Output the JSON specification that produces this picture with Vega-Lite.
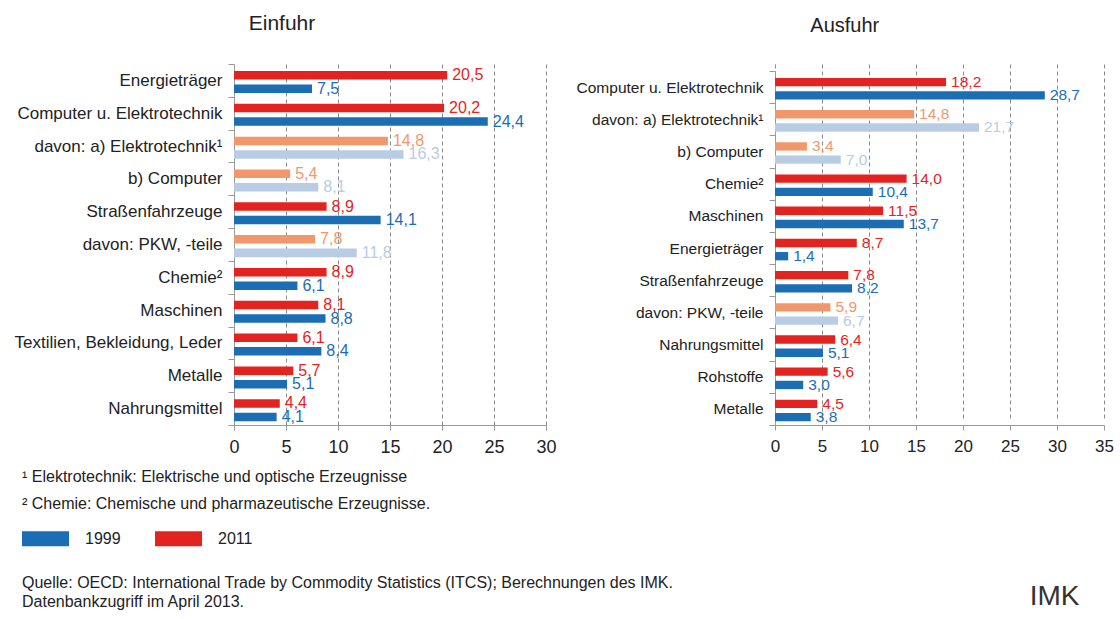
{
  "$schema": "https://vega.github.io/schema/vega-lite/v6.json",
  "background": "white",
  "padding": {"left": 8, "top": 13, "right": 0, "bottom": 0},
  "datasets": {
    "einfuhr": [
      {"cat": "Energieträger", "year": "2011", "series": "2011", "value": 20.5},
      {"cat": "Energieträger", "year": "1999", "series": "1999", "value": 7.5},
      {"cat": "Computer u. Elektrotechnik", "year": "2011", "series": "2011", "value": 20.2},
      {"cat": "Computer u. Elektrotechnik", "year": "1999", "series": "1999", "value": 24.4},
      {"cat": "davon: a) Elektrotechnik¹", "year": "2011", "series": "2011 davon", "value": 14.8},
      {"cat": "davon: a) Elektrotechnik¹", "year": "1999", "series": "1999 davon", "value": 16.3},
      {"cat": "b) Computer", "year": "2011", "series": "2011 davon", "value": 5.4},
      {"cat": "b) Computer", "year": "1999", "series": "1999 davon", "value": 8.1},
      {"cat": "Straßenfahrzeuge", "year": "2011", "series": "2011", "value": 8.9},
      {"cat": "Straßenfahrzeuge", "year": "1999", "series": "1999", "value": 14.1},
      {"cat": "davon: PKW, -teile", "year": "2011", "series": "2011 davon", "value": 7.8},
      {"cat": "davon: PKW, -teile", "year": "1999", "series": "1999 davon", "value": 11.8},
      {"cat": "Chemie²", "year": "2011", "series": "2011", "value": 8.9},
      {"cat": "Chemie²", "year": "1999", "series": "1999", "value": 6.1},
      {"cat": "Maschinen", "year": "2011", "series": "2011", "value": 8.1},
      {"cat": "Maschinen", "year": "1999", "series": "1999", "value": 8.8},
      {"cat": "Textilien, Bekleidung, Leder", "year": "2011", "series": "2011", "value": 6.1},
      {"cat": "Textilien, Bekleidung, Leder", "year": "1999", "series": "1999", "value": 8.4},
      {"cat": "Metalle", "year": "2011", "series": "2011", "value": 5.7},
      {"cat": "Metalle", "year": "1999", "series": "1999", "value": 5.1},
      {"cat": "Nahrungsmittel", "year": "2011", "series": "2011", "value": 4.4},
      {"cat": "Nahrungsmittel", "year": "1999", "series": "1999", "value": 4.1}
    ],
    "ausfuhr": [
      {"cat": "Computer u. Elektrotechnik", "year": "2011", "series": "2011", "value": 18.2},
      {"cat": "Computer u. Elektrotechnik", "year": "1999", "series": "1999", "value": 28.7},
      {"cat": "davon: a) Elektrotechnik¹", "year": "2011", "series": "2011 davon", "value": 14.8},
      {"cat": "davon: a) Elektrotechnik¹", "year": "1999", "series": "1999 davon", "value": 21.7},
      {"cat": "b) Computer", "year": "2011", "series": "2011 davon", "value": 3.4},
      {"cat": "b) Computer", "year": "1999", "series": "1999 davon", "value": 7.0},
      {"cat": "Chemie²", "year": "2011", "series": "2011", "value": 14.0},
      {"cat": "Chemie²", "year": "1999", "series": "1999", "value": 10.4},
      {"cat": "Maschinen", "year": "2011", "series": "2011", "value": 11.5},
      {"cat": "Maschinen", "year": "1999", "series": "1999", "value": 13.7},
      {"cat": "Energieträger", "year": "2011", "series": "2011", "value": 8.7},
      {"cat": "Energieträger", "year": "1999", "series": "1999", "value": 1.4},
      {"cat": "Straßenfahrzeuge", "year": "2011", "series": "2011", "value": 7.8},
      {"cat": "Straßenfahrzeuge", "year": "1999", "series": "1999", "value": 8.2},
      {"cat": "davon: PKW, -teile", "year": "2011", "series": "2011 davon", "value": 5.9},
      {"cat": "davon: PKW, -teile", "year": "1999", "series": "1999 davon", "value": 6.7},
      {"cat": "Nahrungsmittel", "year": "2011", "series": "2011", "value": 6.4},
      {"cat": "Nahrungsmittel", "year": "1999", "series": "1999", "value": 5.1},
      {"cat": "Rohstoffe", "year": "2011", "series": "2011", "value": 5.6},
      {"cat": "Rohstoffe", "year": "1999", "series": "1999", "value": 3.0},
      {"cat": "Metalle", "year": "2011", "series": "2011", "value": 4.5},
      {"cat": "Metalle", "year": "1999", "series": "1999", "value": 3.8}
    ]
  },
  "title": {
    "text": "IMK",
    "orient": "bottom",
    "anchor": "end",
    "frame": "bounds",
    "offset": -27,
    "dx": -34,
    "fontSize": 28,
    "fontWeight": "normal",
    "color": "#333333"
  },
  "vconcat": [
    {
      "title": {
        "text": ["¹ Elektrotechnik: Elektrische und optische Erzeugnisse", "² Chemie: Chemische und pharmazeutische Erzeugnisse."],
        "subtitle": ["Quelle: OECD: International Trade by Commodity Statistics (ITCS); Berechnungen des IMK.", "Datenbankzugriff im April 2013."],
        "orient": "bottom",
        "anchor": "start",
        "frame": "bounds",
        "offset": 13,
        "dx": 14,
        "fontSize": 16,
        "fontWeight": "normal",
        "lineHeight": 27,
        "color": "#222222",
        "subtitleFontSize": 16,
        "subtitleLineHeight": 19,
        "subtitleColor": "#222222",
        "subtitlePadding": 63
      },
      "spacing": 19,
      "resolve": {"scale": {"yOffset": "independent"}},
      "hconcat": [
        {
          "width": 312,
          "height": 361,
          "title": {"text": "Einfuhr", "frame": "bounds", "anchor": "middle", "offset": 21, "fontSize": 21, "fontWeight": "normal", "color": "#222222"},
          "data": {"name": "einfuhr"},
          "encoding": {
            "y": {
              "field": "cat", "type": "nominal", "title": null,
              "sort": ["Energieträger", "Computer u. Elektrotechnik", "davon: a) Elektrotechnik¹", "b) Computer", "Straßenfahrzeuge", "davon: PKW, -teile", "Chemie²", "Maschinen", "Textilien, Bekleidung, Leder", "Metalle", "Nahrungsmittel"],
              "scale": {"paddingInner": 0, "paddingOuter": 0},
              "axis": {"minExtent": 226, "maxExtent": 226, "tickBand": "extent", "tickSize": 6, "tickColor": "#999999", "domainColor": "#999999", "labelFontSize": 17, "labelColor": "#222222", "labelPadding": 6, "labelLimit": 400}
            },
            "yOffset": {"field": "year", "type": "nominal", "sort": ["2011", "1999"], "scale": {"paddingInner": 0.37, "paddingOuter": 0.4, "align": 0.65}},
            "x": {
              "field": "value", "type": "quantitative", "title": null,
              "scale": {"domain": [0, 30], "nice": false},
              "axis": {"values": [0, 5, 10, 15, 20, 25, 30], "grid": true, "gridDash": [4, 3], "gridColor": "#8a8a8a", "tickSize": 5, "tickColor": "#999999", "domainColor": "#999999", "labelFontSize": 18, "labelColor": "#222222", "labelPadding": 8, "labelFlush": false}
            }
          },
          "layer": [
            {
              "mark": {"type": "bar"},
              "encoding": {
                "color": {
                  "field": "series", "type": "nominal",
                  "scale": {"domain": ["1999", "2011", "1999 davon", "2011 davon"], "range": ["#1b6db4", "#e3231f", "#b8cce4", "#f0986b"]},
                  "legend": {"values": ["1999", "2011"], "orient": "none", "legendX": -212, "legendY": 451, "direction": "horizontal", "title": null, "symbolType": "M-1,-0.32H1V0.32H-1Z", "symbolSize": 2209, "symbolStrokeWidth": 0, "labelFontSize": 16, "labelColor": "#222222", "labelOffset": 16, "columnPadding": 34,
                    "encode": {"symbols": {"update": {"fill": {"signal": "datum.value === '1999' ? '#2f4b9b' : '#d9321f'"}}}}}
                }
              }
            },
            {
              "mark": {"type": "text", "align": "left", "baseline": "middle", "dx": 5, "fontSize": 16},
              "encoding": {
                "text": {"field": "value", "type": "quantitative", "format": ".1f"},
                "color": {"field": "series", "type": "nominal", "legend": null}
              }
            }
          ]
        },
        {
          "width": 329,
          "height": 361,
          "title": {"text": "Ausfuhr", "frame": "bounds", "anchor": "middle", "offset": 21, "fontSize": 20, "fontWeight": "normal", "color": "#222222"},
          "data": {"name": "ausfuhr"},
          "encoding": {
            "y": {
              "field": "cat", "type": "nominal", "title": null,
              "sort": ["Computer u. Elektrotechnik", "davon: a) Elektrotechnik¹", "b) Computer", "Chemie²", "Maschinen", "Energieträger", "Straßenfahrzeuge", "davon: PKW, -teile", "Nahrungsmittel", "Rohstoffe", "Metalle"],
              "scale": {"paddingInner": 0, "paddingOuter": 0, "range": [7, 361]},
              "axis": {"minExtent": 198, "maxExtent": 198, "tickBand": "extent", "tickSize": 6, "tickColor": "#999999", "domainColor": "#999999", "labelFontSize": 15.5, "labelColor": "#222222", "labelPadding": 6, "labelLimit": 400}
            },
            "yOffset": {"field": "year", "type": "nominal", "sort": ["2011", "1999"], "scale": {"paddingInner": 0.37, "paddingOuter": 0.4, "align": 0.65}},
            "x": {
              "field": "value", "type": "quantitative", "title": null,
              "scale": {"domain": [0, 35], "nice": false},
              "axis": {"values": [0, 5, 10, 15, 20, 25, 30, 35], "grid": true, "gridDash": [4, 3], "gridColor": "#8a8a8a", "tickSize": 5, "tickColor": "#999999", "domainColor": "#999999", "labelFontSize": 17, "labelColor": "#222222", "labelPadding": 8, "labelFlush": false}
            }
          },
          "layer": [
            {
              "mark": {"type": "bar"},
              "encoding": {
                "color": {
                  "field": "series", "type": "nominal",
                  "scale": {"domain": ["1999", "2011", "1999 davon", "2011 davon"], "range": ["#1b6db4", "#e3231f", "#b8cce4", "#f0986b"]},
                  "legend": {"values": ["1999", "2011"], "orient": "none", "legendX": -212, "legendY": 451, "direction": "horizontal", "title": null, "symbolType": "M-1,-0.32H1V0.32H-1Z", "symbolSize": 2209, "symbolStrokeWidth": 0, "labelFontSize": 16, "labelColor": "#222222", "labelOffset": 16, "columnPadding": 34,
                    "encode": {"symbols": {"update": {"fill": {"signal": "datum.value === '1999' ? '#2f4b9b' : '#d9321f'"}}}}}
                }
              }
            },
            {
              "mark": {"type": "text", "align": "left", "baseline": "middle", "dx": 5, "fontSize": 15.5},
              "encoding": {
                "text": {"field": "value", "type": "quantitative", "format": ".1f"},
                "color": {"field": "series", "type": "nominal", "legend": null}
              }
            }
          ]
        }
      ]
    }
  ],
  "config": {
    "font": "Liberation Sans",
    "view": {"stroke": null},
    "locale": {"number": {"decimal": ",", "thousands": ".", "grouping": [3], "currency": ["", " €"]}}
  }
}
